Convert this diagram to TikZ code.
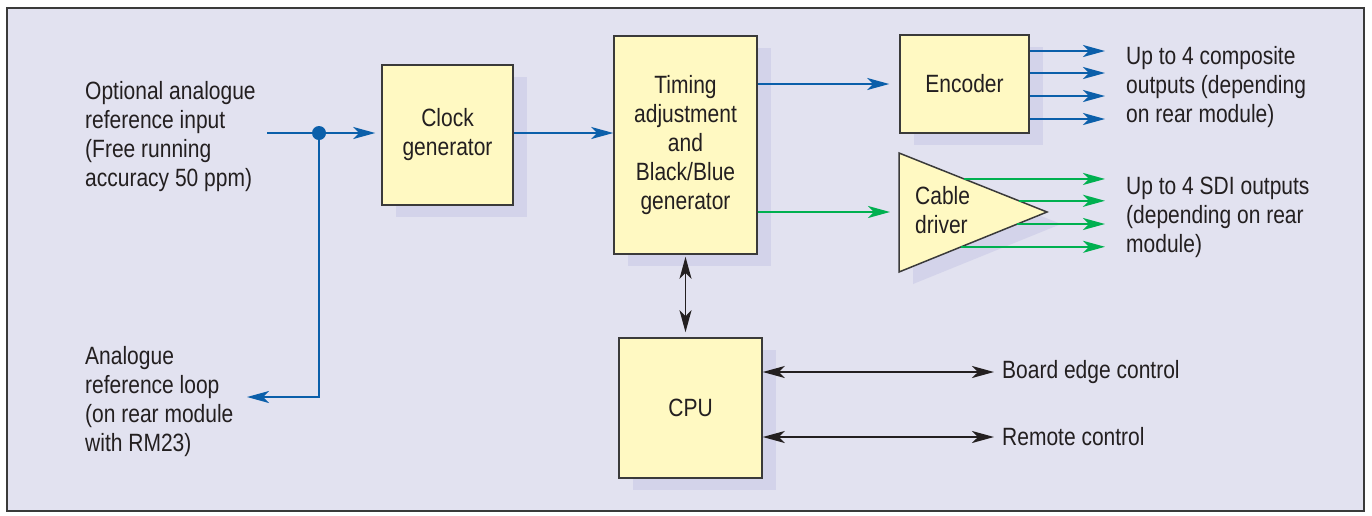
\documentclass[tikz,border=0pt]{standalone}
\usepackage{fontspec}
\setmainfont{Liberation Sans}[FakeStretch=0.84]
\usepackage{xcolor}
\usetikzlibrary{positioning, shapes, arrows.meta, calc, shadows}

\definecolor{panel}{HTML}{E2E2F0}
\definecolor{shade}{HTML}{D3D3EA}
\definecolor{boxfill}{HTML}{FFF9C2}
\definecolor{edge}{HTML}{3A3A3A}
\definecolor{ink}{HTML}{231F20}
\definecolor{sigblue}{HTML}{0B5FAA}
\definecolor{siggreen}{HTML}{00B050}

\begin{document}
\begin{tikzpicture}[x=1pt, y=-1pt, font=\fontsize{25}{29}\selectfont, text=ink,
  >={Stealth[length=22pt, width=12pt, inset=6pt]},
  look/.style={draw=edge, line width=1.5pt, fill=boxfill,
    drop shadow={shadow xshift=14pt, shadow yshift=-12pt, opacity=1, fill=shade}},
  block/.style={look, align=center, inner sep=0pt},
  txt/.style={anchor=west, align=left, inner sep=0pt},
  sig/.style={->, line width=2pt, draw=sigblue},
  sigG/.style={->, line width=2pt, draw=siggreen},
  duplex/.style={<->, line width=1.8pt, draw=ink},
  junction/.style={circle, fill=sigblue, minimum size=14pt, inner sep=0pt}]

  \useasboundingbox (0,0) rectangle (1372,515);
  \draw[draw=edge, line width=1.5pt, fill=panel] (7,8) rectangle (1364,511);

  % blocks
  \node[block, minimum width=131pt, minimum height=140pt] (clock) at (447.5,135) {Clock\\generator};
  \node[block, minimum width=143pt, minimum height=218pt] (timing) at (685.5,145) {Timing\\adjustment\\and\\Black/Blue\\generator};
  \node[block, minimum width=129pt, minimum height=98pt] (encoder) at (964.5,84) {Encoder};
  \node[block, minimum width=143pt, minimum height=140pt] (cpu) at (690.5,408) {CPU};

  % cable driver
  \draw[look] (899,153) coordinate (drvtop) -- (1047,212) coordinate (drvtip)
    -- (899,272) coordinate (drvbot) -- cycle;
  \node[txt] (drvtext) at (915,210) {Cable\\driver};

  % labels
  \node[txt] (refin) at (85,137) {Optional analogue\\reference input\\(Free running\\accuracy 50 ppm)};
  \node[txt] (refloop) at (85,402) {Analogue\\reference loop\\(on rear module\\with RM23)};
  \node[txt] (compout) at (1126,87) {Up to 4 composite\\outputs (depending\\on rear module)};
  \node[txt] (sdiout) at (1126,217) {Up to 4 SDI outputs\\(depending on rear\\module)};
  \node[txt] (board) at (1002,372) {Board edge control};
  \node[txt] (remote) at (1002,437) {Remote control};

  \coordinate (inlet) at (267,133);
  \coordinate (loopend) at (247,397);
  \node[junction] (tap) at (319,133) {};

  % connectors
  \draw[sig, shorten >=6pt] (inlet) -- (clock.west |- inlet);
  \draw[sig] (tap) |- (loopend);
  \draw[sig] (clock.east |- inlet) -- (timing.west |- inlet);
  \draw[sig, shorten >=10pt] (timing.east |- encoder.west) -- (encoder.west);
  \draw[sigG, shorten >=9pt] (timing.east |- drvtip) -- (drvtop |- drvtip);
  \foreach \y in {51,73,96,119}
    \draw[sig, shorten >=21pt] (encoder.east |- 0,\y) -- (compout.west |- 0,\y);
  \foreach \e/\f in {drvtop/0.44, drvtop/0.81, drvbot/0.8, drvbot/0.42} {
    \path ($(\e)!\f!(drvtip)$) coordinate (o);
    \draw[sigG, shorten >=21pt] (o) -- (sdiout.west |- o);
  }
  \draw[duplex, shorten <=2pt, shorten >=5pt] (timing.south) -- (timing.south |- cpu.north);
  \draw[duplex, shorten >=8pt] (cpu.east |- board.west) -- (board.west);
  \draw[duplex, shorten >=8pt] (cpu.east |- remote.west) -- (remote.west);
\end{tikzpicture}
\end{document}
